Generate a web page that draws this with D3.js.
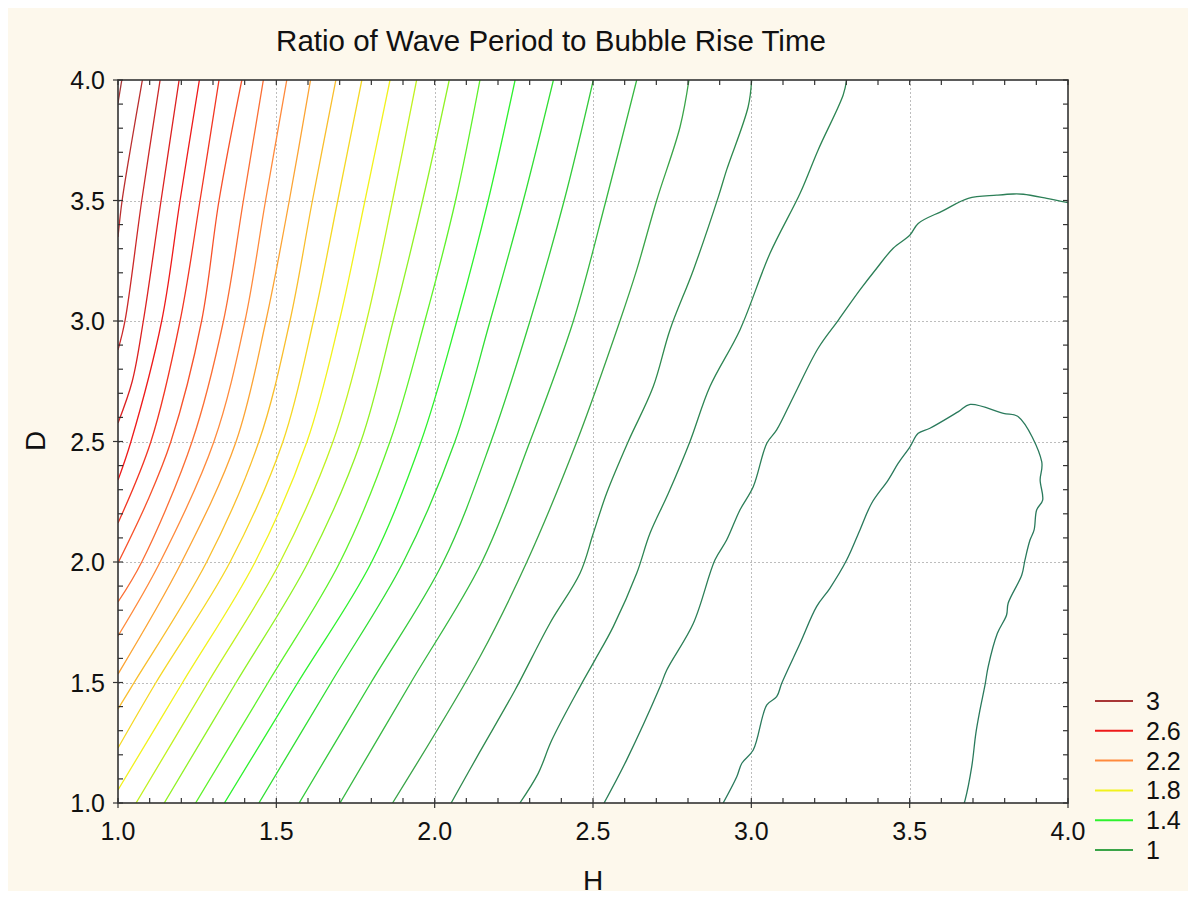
<!DOCTYPE html>
<html>
<head>
<meta charset="utf-8">
<script src="https://cdn.jsdelivr.net/npm/d3@7"></script>
<style>
  html, body { margin: 0; padding: 0; background: #ffffff; }
  svg { display: block; font-family: "Liberation Sans", Arial, sans-serif; }
</style>
</head>
<body>
<svg id="chart" width="1196" height="899"></svg>
<script>
// Contour levels of the ratio, and the (H, D) vertices of each contour line.
const contourLevels = [3.0, 2.9, 2.8, 2.7, 2.6, 2.5, 2.4, 2.3, 2.2, 2.1, 2.0, 1.9, 1.8,
                       1.7, 1.6, 1.5, 1.4, 1.3, 1.2, 1.1, 1.0, 0.9, 0.8, 0.7, 0.6];

const contourPaths = [
  [[1.012, 4.0], [1.0, 3.905]],
  [[1.077, 4.0], [1.044, 3.75], [1.013, 3.5], [1.0, 3.349]],
  [[1.133, 4.0], [1.075, 3.5], [1.022, 3.0], [1.0, 2.880]],
  [[1.193, 4.0], [1.136, 3.5], [1.080, 3.0], [1.045, 2.75], [1.0, 2.577]],
  [[1.257, 4.0], [1.196, 3.5], [1.138, 3.0], [1.041, 2.5], [1.0, 2.340]],
  [[1.319, 4.0], [1.259, 3.5], [1.196, 3.0], [1.104, 2.5], [1.0, 2.162]],
  [[1.391, 4.0], [1.319, 3.5], [1.264, 3.0], [1.167, 2.5], [1.092, 2.25], [1.0, 1.996]],
  [[1.459, 4.0], [1.396, 3.5], [1.333, 3.0], [1.234, 2.5], [1.075, 2.0], [1.0, 1.834]],
  [[1.533, 4.0], [1.466, 3.5], [1.401, 3.0], [1.303, 2.5], [1.133, 2.0], [1.0, 1.693]],
  [[1.608, 4.0], [1.541, 3.5], [1.467, 3.0], [1.373, 2.5], [1.201, 2.0], [1.0, 1.535]],
  [[1.688, 4.0], [1.614, 3.5], [1.543, 3.0], [1.445, 2.5], [1.280, 2.0], [1.051, 1.5], [1.0, 1.390]],
  [[1.770, 4.0], [1.694, 3.5], [1.617, 3.0], [1.521, 2.5], [1.354, 2.0], [1.120, 1.5], [1.0, 1.228]],
  [[1.859, 4.0], [1.780, 3.5], [1.699, 3.0], [1.597, 2.5], [1.433, 2.0], [1.204, 1.5], [1.0, 1.054]],
  [[1.943, 4.0], [1.867, 3.5], [1.785, 3.0], [1.679, 2.5], [1.512, 2.0], [1.284, 1.5], [1.057, 1.0]],
  [[2.046, 4.0], [1.962, 3.5], [1.869, 3.0], [1.767, 2.5], [1.601, 2.0], [1.373, 1.5], [1.146, 1.0]],
  [[2.143, 4.0], [2.066, 3.5], [1.969, 3.0], [1.859, 2.5], [1.701, 2.0], [1.474, 1.5], [1.245, 1.0]],
  [[2.254, 4.0], [2.169, 3.5], [2.070, 3.0], [1.957, 2.5], [1.801, 2.0], [1.568, 1.5], [1.336, 1.0]],
  [[2.375, 4.0], [2.280, 3.5], [2.175, 3.0], [2.064, 2.5], [1.901, 2.0], [1.673, 1.5], [1.445, 1.0]],
  [[2.501, 4.0], [2.409, 3.5], [2.301, 3.0], [2.178, 2.5], [2.027, 2.0], [1.799, 1.5], [1.572, 1.0]],
  [[2.638, 4.0], [2.541, 3.5], [2.438, 3.0], [2.301, 2.5], [2.149, 2.0], [1.925, 1.5], [1.701, 1.0]],
  [[2.803, 4.0], [2.775, 3.806], [2.701, 3.5], [2.638, 3.212], [2.585, 3.0], [2.449, 2.5],
   [2.291, 2.0], [2.143, 1.607], [1.867, 1.0]],
  [[3.001, 4.0], [2.990, 3.889], [2.922, 3.627], [2.896, 3.516], [2.817, 3.212], [2.743, 2.963],
   [2.690, 2.727], [2.611, 2.499], [2.543, 2.285], [2.501, 2.119], [2.459, 1.953], [2.364, 1.746],
   [2.254, 1.469], [2.143, 1.213], [2.052, 1.0]],
  [[3.301, 4.0], [3.290, 3.938], [3.211, 3.710], [3.154, 3.530], [3.059, 3.281], [2.964, 2.963],
   [2.869, 2.727], [2.806, 2.499], [2.738, 2.285], [2.680, 2.119], [2.638, 1.953], [2.564, 1.732],
   [2.506, 1.593], [2.459, 1.483], [2.370, 1.261], [2.327, 1.123], [2.269, 1.0]],
  [[4.0, 3.491], [3.933, 3.509], [3.859, 3.526], [3.827, 3.527], [3.775, 3.522], [3.685, 3.509],
   [3.606, 3.458], [3.527, 3.405], [3.501, 3.357], [3.448, 3.302], [3.396, 3.219], [3.343, 3.129],
   [3.275, 3.004], [3.211, 2.887], [3.133, 2.686], [3.080, 2.548], [3.049, 2.493], [3.006, 2.312],
   [2.964, 2.216], [2.922, 2.091], [2.885, 2.008], [2.817, 1.746], [2.733, 1.552], [2.712, 1.483],
   [2.606, 1.178], [2.535, 1.0]],
  [[2.911, 1.0], [2.954, 1.109], [2.970, 1.165], [3.006, 1.220], [3.049, 1.407], [3.080, 1.441],
   [3.096, 1.497], [3.154, 1.663], [3.206, 1.815], [3.248, 1.891], [3.301, 2.008], [3.343, 2.133],
   [3.380, 2.244], [3.432, 2.340], [3.464, 2.410], [3.501, 2.478], [3.527, 2.534], [3.564, 2.555],
   [3.654, 2.624], [3.691, 2.654], [3.796, 2.617], [3.843, 2.603], [3.917, 2.416], [3.912, 2.340],
   [3.920, 2.257], [3.901, 2.216], [3.893, 2.133], [3.880, 2.091], [3.864, 2.008], [3.854, 1.946],
   [3.811, 1.829], [3.806, 1.780], [3.777, 1.704], [3.748, 1.566], [3.738, 1.490], [3.722, 1.386],
   [3.709, 1.289], [3.696, 1.151], [3.675, 1.012], [3.672, 1.0]]
];

const legendLevels = [3, 2.6, 2.2, 1.8, 1.4, 1];
const majorTicks = [1.0, 1.5, 2.0, 2.5, 3.0, 3.5, 4.0];
const minorTicks = d3.range(10, 41).map(v => v / 10);

const titleText = "Ratio of Wave Period to Bubble Rise Time";
const xTitle = "H";
const yTitle = "D";

// Layout
const W = 1196, H = 899;
const plot = { left: 118, right: 1068, top: 80, bottom: 803 };

const svg = d3.select("#chart");

svg.append("rect")
  .attr("x", 8).attr("y", 8)
  .attr("width", W - 16).attr("height", H - 16)
  .attr("fill", "#fdf8ec");

const x = d3.scaleLinear().domain([1, 4]).range([plot.left, plot.right]);
const y = d3.scaleLinear().domain([1, 4]).range([plot.bottom, plot.top]);

const color = d3.scaleLinear()
  .domain([0.6, 0.9, 1.0, 1.4, 1.8, 2.2, 2.6, 3.0])
  .range(["#2a7a5c", "#2f8a4e", "#3aa448", "#2ef22e", "#f2f21c", "#ff8a3c", "#ee1a1a", "#a83636"])
  .interpolate(d3.interpolateRgb);

// Plot area
svg.append("rect")
  .attr("x", plot.left).attr("y", plot.top)
  .attr("width", plot.right - plot.left).attr("height", plot.bottom - plot.top)
  .attr("fill", "#ffffff");

// Dotted grid at the labelled ticks
const grid = svg.append("g").attr("stroke", "#bdbdbd").attr("stroke-width", 1)
  .attr("stroke-dasharray", "2,2").attr("fill", "none");
grid.selectAll("line.gx").data(majorTicks.slice(1, -1)).join("line")
  .attr("class", "gx")
  .attr("x1", d => Math.round(x(d)) + 0.5).attr("x2", d => Math.round(x(d)) + 0.5)
  .attr("y1", plot.top).attr("y2", plot.bottom);
grid.selectAll("line.gy").data(majorTicks.slice(1, -1)).join("line")
  .attr("class", "gy")
  .attr("y1", d => Math.round(y(d)) + 0.5).attr("y2", d => Math.round(y(d)) + 0.5)
  .attr("x1", plot.left).attr("x2", plot.right);

// Contour lines
svg.append("clipPath").attr("id", "plotClip")
  .append("rect")
  .attr("x", plot.left).attr("y", plot.top)
  .attr("width", plot.right - plot.left).attr("height", plot.bottom - plot.top);

const line = d3.line()
  .x(d => x(d[0]))
  .y(d => y(d[1]))
  .curve(d3.curveCatmullRom.alpha(0.5));

svg.append("g").attr("clip-path", "url(#plotClip)")
  .selectAll("path")
  .data(contourPaths)
  .join("path")
  .attr("d", line)
  .attr("fill", "none")
  .attr("stroke", (d, i) => color(contourLevels[i]))
  .attr("stroke-width", 1.3);

// Frame
svg.append("rect")
  .attr("x", plot.left).attr("y", plot.top)
  .attr("width", plot.right - plot.left).attr("height", plot.bottom - plot.top)
  .attr("fill", "none").attr("stroke", "#333333").attr("stroke-width", 1.6);

// Ticks: minor ticks point inward on all four sides, labelled ticks also stick out
const ticks = svg.append("g").attr("stroke", "#333333").attr("stroke-width", 1.2);
const tickLen = 5;
ticks.selectAll("line.tb").data(minorTicks).join("line").attr("class", "tb")
  .attr("x1", d => x(d)).attr("x2", d => x(d))
  .attr("y1", plot.bottom).attr("y2", plot.bottom - tickLen);
ticks.selectAll("line.tt").data(minorTicks).join("line").attr("class", "tt")
  .attr("x1", d => x(d)).attr("x2", d => x(d))
  .attr("y1", plot.top).attr("y2", plot.top + tickLen);
ticks.selectAll("line.tl").data(minorTicks).join("line").attr("class", "tl")
  .attr("y1", d => y(d)).attr("y2", d => y(d))
  .attr("x1", plot.left).attr("x2", plot.left + tickLen);
ticks.selectAll("line.tr").data(minorTicks).join("line").attr("class", "tr")
  .attr("y1", d => y(d)).attr("y2", d => y(d))
  .attr("x1", plot.right).attr("x2", plot.right - tickLen);
ticks.selectAll("line.mb").data(majorTicks).join("line").attr("class", "mb")
  .attr("x1", d => x(d)).attr("x2", d => x(d))
  .attr("y1", plot.bottom).attr("y2", plot.bottom + tickLen);
ticks.selectAll("line.ml").data(majorTicks).join("line").attr("class", "ml")
  .attr("y1", d => y(d)).attr("y2", d => y(d))
  .attr("x1", plot.left).attr("x2", plot.left - tickLen);

// Tick labels
const fmt = d3.format(".1f");
svg.append("g").selectAll("text").data(majorTicks).join("text")
  .attr("x", d => x(d)).attr("y", 840)
  .attr("text-anchor", "middle")
  .attr("font-size", 25).attr("fill", "#111")
  .text(fmt);
svg.append("g").selectAll("text").data(majorTicks).join("text")
  .attr("x", 105).attr("y", d => y(d) + 9)
  .attr("text-anchor", "end")
  .attr("font-size", 25).attr("fill", "#111")
  .text(fmt);

// Titles
svg.append("text")
  .attr("x", 551).attr("y", 51)
  .attr("text-anchor", "middle")
  .attr("font-size", 29.5).attr("fill", "#111")
  .text(titleText);
svg.append("text")
  .attr("x", 593).attr("y", 890)
  .attr("text-anchor", "middle")
  .attr("font-size", 28).attr("fill", "#111")
  .text(xTitle);
svg.append("text")
  .attr("transform", "translate(45,441) rotate(-90)")
  .attr("text-anchor", "middle")
  .attr("font-size", 28).attr("fill", "#111")
  .text(yTitle);

// Legend
const legend = svg.append("g");
const legY = d3.scaleLinear().domain([0, legendLevels.length - 1]).range([701, 850]);
legend.selectAll("line").data(legendLevels).join("line")
  .attr("x1", 1095).attr("x2", 1133)
  .attr("y1", (d, i) => legY(i)).attr("y2", (d, i) => legY(i))
  .attr("stroke", d => color(d)).attr("stroke-width", 2);
legend.selectAll("text").data(legendLevels).join("text")
  .attr("x", 1146).attr("y", (d, i) => legY(i) + 9)
  .attr("font-size", 25).attr("fill", "#111")
  .text(d => d);
</script>
</body>
</html>
